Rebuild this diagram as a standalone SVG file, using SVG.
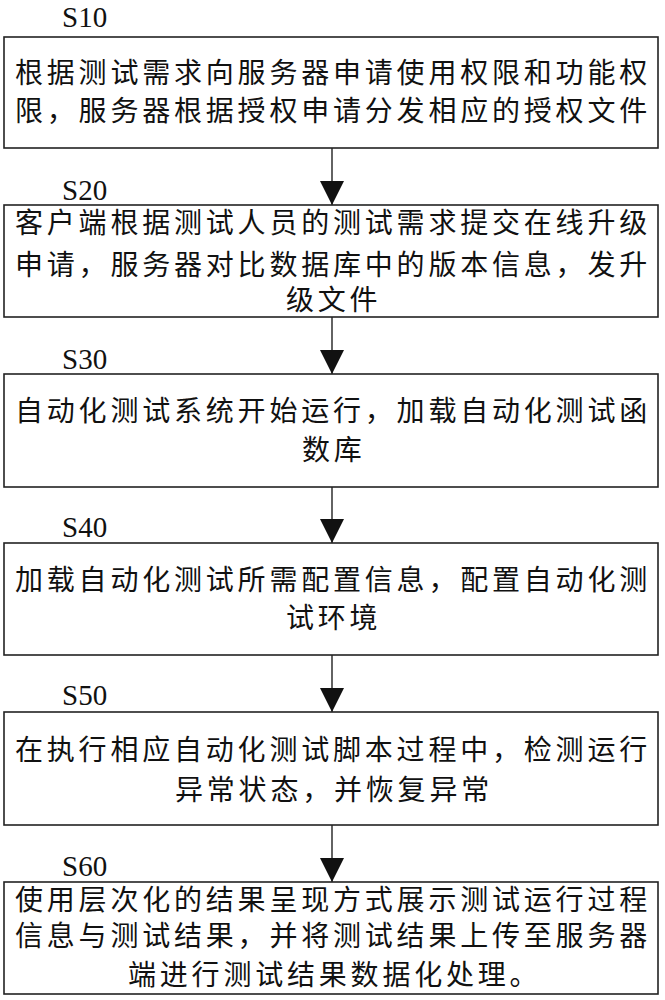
<svg xmlns="http://www.w3.org/2000/svg" width="665" height="1000" viewBox="0 0 665 1000">
<style>
.box{fill:#fff;stroke:#222;stroke-width:1.6}
.t{font-family:"Noto Sans CJK SC","Noto Sans CJK JP",sans-serif;font-size:28px;fill:#111;letter-spacing:3.8px}
.lbl{font-family:"Liberation Serif",serif;font-size:29px;fill:#111}
.conn{stroke:#222;stroke-width:1.4;fill:none}
</style>
<defs>
<marker id="ah" markerUnits="userSpaceOnUse" markerWidth="24" markerHeight="24" viewBox="0 0 22 22" refX="22" refY="11" orient="auto">
<path d="M0,0 L22,11 L0,22 Z" fill="#111"/>
</marker>
</defs>
<rect width="665" height="1000" fill="#fff"/>
<g id="connectors">
<line class="conn" x1="332" y1="148" x2="332" y2="205" marker-end="url(#ah)"/>
<line class="conn" x1="332" y1="317" x2="332" y2="374" marker-end="url(#ah)"/>
<line class="conn" x1="332" y1="487" x2="332" y2="543" marker-end="url(#ah)"/>
<line class="conn" x1="332" y1="655" x2="332" y2="712" marker-end="url(#ah)"/>
<line class="conn" x1="332" y1="825" x2="332" y2="882" marker-end="url(#ah)"/>
</g>
<g id="S10">
<text class="lbl" x="62" y="27">S10</text>
<rect class="box" x="4" y="37" width="654" height="111"/>
<text class="t" x="15" y="83">根据测试需求向服务器申请使用权限和功能权</text>
<text class="t" x="15" y="121">限，服务器根据授权申请分发相应的授权文件</text>
</g>
<g id="S20">
<text class="lbl" x="62" y="200">S20</text>
<rect class="box" x="4" y="205" width="654" height="112"/>
<text class="t" x="15" y="233">客户端根据测试人员的测试需求提交在线升级</text>
<text class="t" x="15" y="275">申请，服务器对比数据库中的版本信息，发升</text>
<text class="t" x="286" y="310">级文件</text>
</g>
<g id="S30">
<text class="lbl" x="62" y="369">S30</text>
<rect class="box" x="4" y="374" width="654" height="113"/>
<text class="t" x="15" y="421">自动化测试系统开始运行，加载自动化测试函</text>
<text class="t" x="302" y="460">数库</text>
</g>
<g id="S40">
<text class="lbl" x="62" y="537">S40</text>
<rect class="box" x="4" y="543" width="654" height="112"/>
<text class="t" x="15" y="590">加载自动化测试所需配置信息，配置自动化测</text>
<text class="t" x="286" y="628">试环境</text>
</g>
<g id="S50">
<text class="lbl" x="62" y="705">S50</text>
<rect class="box" x="4" y="712" width="654" height="113"/>
<text class="t" x="15" y="760">在执行相应自动化测试脚本过程中，检测运行</text>
<text class="t" x="175" y="800">异常状态，并恢复异常</text>
</g>
<g id="S60">
<text class="lbl" x="62" y="876">S60</text>
<rect class="box" x="4" y="882" width="654" height="112"/>
<text class="t" x="15" y="910">使用层次化的结果呈现方式展示测试运行过程</text>
<text class="t" x="15" y="946">信息与测试结果，并将测试结果上传至服务器</text>
<text class="t" x="128" y="985">端进行测试结果数据化处理。</text>
</g>
</svg>
